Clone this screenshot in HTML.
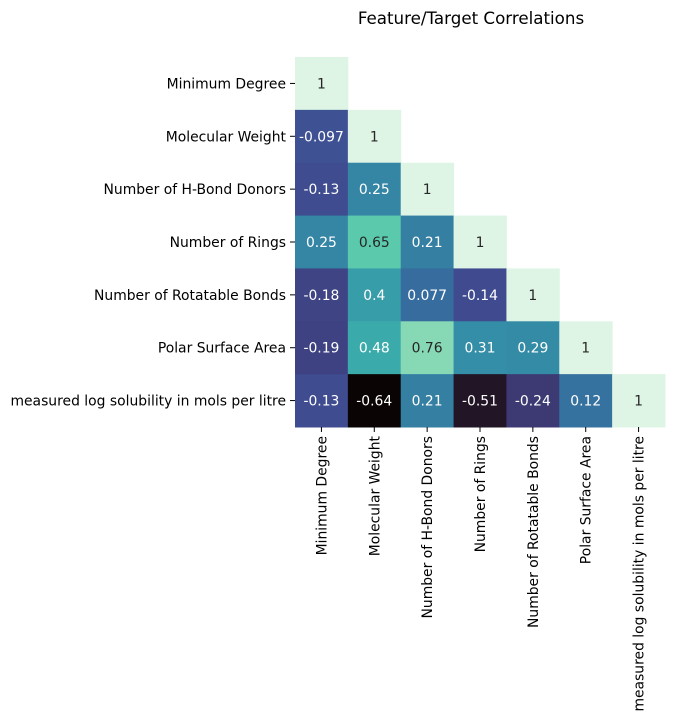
<!DOCTYPE html>
<html><head><meta charset="utf-8"><style>
html,body{margin:0;padding:0;background:#fff;}
svg{display:block;font-family:"DejaVu Sans","Liberation Sans",sans-serif;}
</style></head><body>
<svg id="chart" width="674" height="722" viewBox="0 0 674 722" xmlns="http://www.w3.org/2000/svg">
<text x="471" y="24" text-anchor="middle" font-size="16.7" fill="#000">Feature/Target Correlations</text>
<g id="cells"></g><g id="ylabels"></g><g id="xlabels"></g>
</svg>
<script>
const labels = ["Minimum Degree","Molecular Weight","Number of H-Bond Donors","Number of Rings","Number of Rotatable Bonds","Polar Surface Area","measured log solubility in mols per litre"];
const row0 = [1];
const row1 = [-0.097,1];
const row2 = [-0.13,0.25,1];
const row3 = [0.25,0.65,0.21,1];
const row4 = [-0.18,0.4,0.077,-0.14,1];
const row5 = [-0.19,0.48,0.76,0.31,0.29,1];
const row6 = [-0.13,-0.64,0.21,-0.51,-0.24,0.12,1];
const rows = [row0,row1,row2,row3,row4,row5,row6];
const vmin = -0.64, vmax = 1;
const stops = ["#0b0405","#28192f","#3b2f5e","#40498e","#38639d","#357ba2","#3493a8","#3cafaa","#60ceac","#a8e1bc","#def5e5"];
const NS="http://www.w3.org/2000/svg";
const gridLeft=295, gridTop=57, cw=370/7, FS=13.9;
function hex(h){return [1,3,5].map(i=>parseInt(h.substr(i,2),16));}
function relLum(c){const l=c.map(x=>{x/=255;return x<=0.03928?x/12.92:Math.pow((x+0.055)/1.055,2.4);});return 0.2126*l[0]+0.7152*l[1]+0.0722*l[2];}
function cmap(v){let t=(v-vmin)/(vmax-vmin);t=Math.max(0,Math.min(1,t));const p=t*10,i=Math.min(9,Math.floor(p)),f=p-i;const a=hex(stops[i]),b=hex(stops[i+1]);const c=a.map((x,k)=>Math.round(x+(b[k]-x)*f));return {css:`rgb(${c.join(',')})`,lum:relLum(c)};}
function xPos(j){return gridLeft+j*cw;}
function yPos(i){return gridTop+i*cw;}
const gc=document.getElementById('cells');
rows.forEach((r,i)=>r.forEach((v,j)=>{
  const c=cmap(v);
  const rect=document.createElementNS(NS,'rect');
  
  
  rect.setAttribute('x',xPos(j));rect.setAttribute('y',yPos(i));
  rect.setAttribute('width',cw+0.5);rect.setAttribute('height',cw+0.5);
  rect.setAttribute('fill',c.css);gc.appendChild(rect);
  const t=document.createElementNS(NS,'text');
  
  
  t.setAttribute('x',xPos(j)+cw/2);t.setAttribute('y',yPos(i)+cw/2+5);
  t.setAttribute('text-anchor','middle');t.setAttribute('font-size',FS);
  t.setAttribute('fill',c.lum>0.408?'#262626':'#fff');
  t.textContent=String(v);gc.appendChild(t);
}));
const gy=document.getElementById('ylabels'),gx=document.getElementById('xlabels');
labels.forEach((l,i)=>{
  const cy=yPos(i)+cw/2;
  const tk=document.createElementNS(NS,'line');
  
  
  tk.setAttribute('x1',gridLeft-5);tk.setAttribute('x2',gridLeft);tk.setAttribute('y1',cy);tk.setAttribute('y2',cy);tk.setAttribute('stroke','#000');gy.appendChild(tk);
  const t=document.createElementNS(NS,'text');
  
  
  t.setAttribute('x',gridLeft-9);t.setAttribute('y',cy+5);t.setAttribute('text-anchor','end');t.setAttribute('font-size',FS);
  t.textContent=l;gy.appendChild(t);
  const cx=xPos(i)+cw/2, by=gridTop+7*cw;
  const tk2=document.createElementNS(NS,'line');
  
  
  tk2.setAttribute('x1',cx);tk2.setAttribute('x2',cx);tk2.setAttribute('y1',by);tk2.setAttribute('y2',by+5);tk2.setAttribute('stroke','#000');gx.appendChild(tk2);
  const t2=document.createElementNS(NS,'text');
  
  
  t2.setAttribute('transform',`translate(${cx+5},${by+9}) rotate(-90)`);t2.setAttribute('text-anchor','end');t2.setAttribute('font-size',FS);
  t2.textContent=l;gx.appendChild(t2);
});
</script>
</body></html>
